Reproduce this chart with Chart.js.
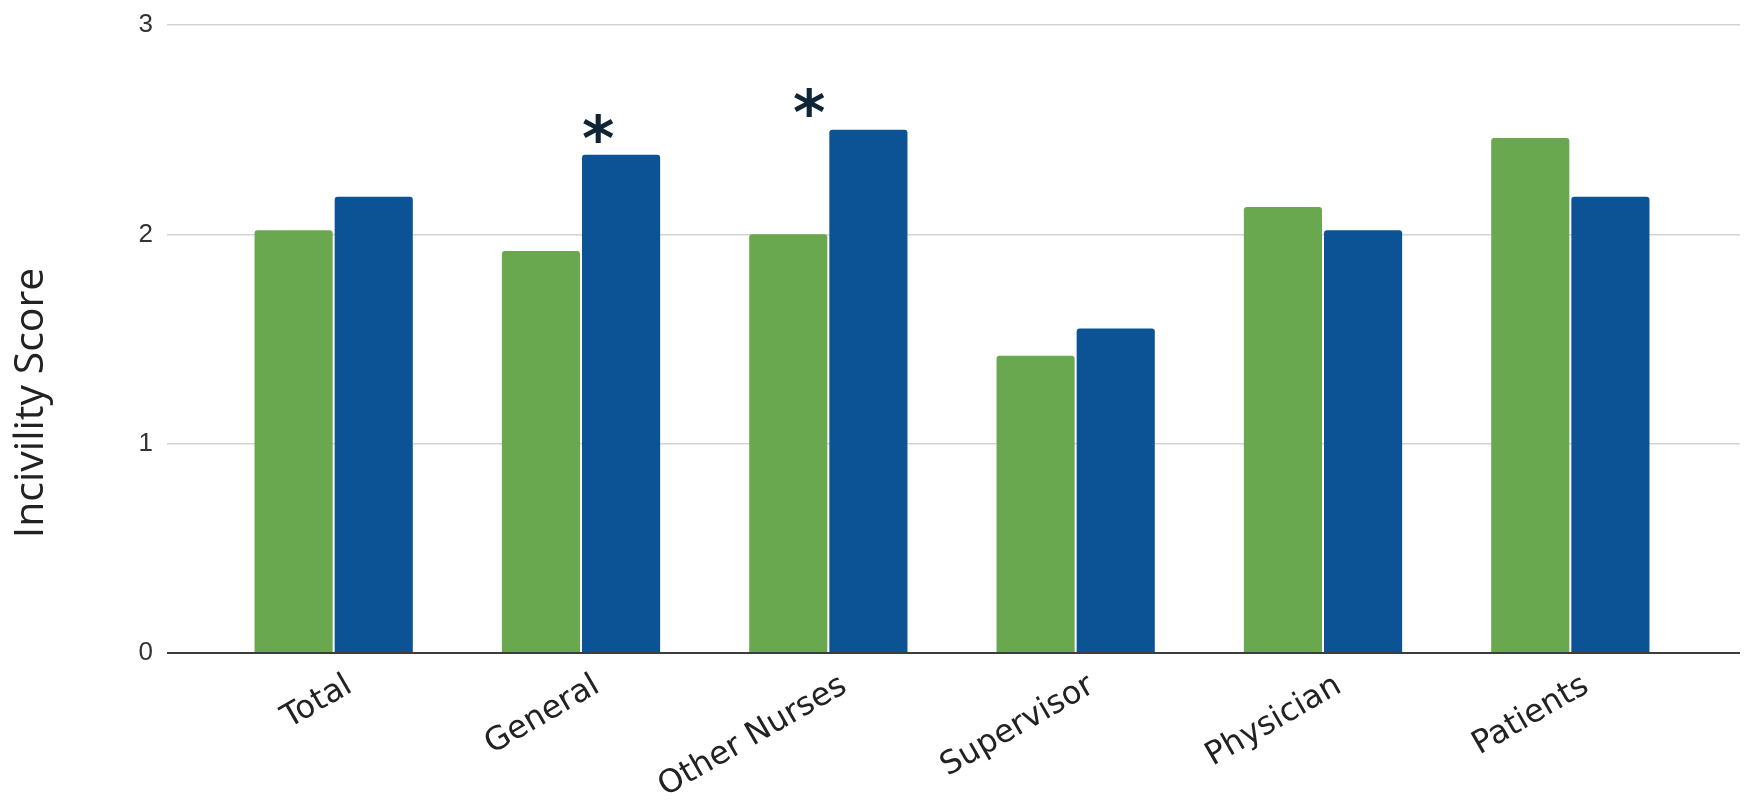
<!DOCTYPE html>
<html>
<head>
<meta charset="utf-8">
<script src="https://cdn.jsdelivr.net/npm/chart.js@4"></script>
<style>
  html, body { margin: 0; padding: 0; background: #fff; }
</style>
</head>
<body>
<canvas id="incivilityChart" width="1745" height="802"></canvas>
<script>
const categories = ['Total', 'General', 'Other Nurses', 'Supervisor', 'Physician', 'Patients'];
const greenScores = [2.02, 1.92, 2.0, 1.42, 2.13, 2.46];
const blueScores = [2.18, 2.38, 2.5, 1.55, 2.02, 2.18];
const yTicks = [0, 1, 2, 3];

// significance stars: category, sideways shift (in category widths), height (score units)
const starCategories = ['General', 'Other Nurses'];
const starShift = [0.07, -0.077];
const starLevel = [2.51, 2.63];

const gridColor = c => (c.tick && c.tick.value === 0 ? '#3c3c3c' : '#d3d3d3');
const gridWidth = c => (c.tick && c.tick.value === 0 ? 2 : 1.5);

// vertical axis title, drawn a bit below centre like the original
const yTitle = {
    id: 'yTitle',
    afterDraw(chart) {
        const ctx = chart.ctx;
        ctx.save();
        ctx.translate(31, 403);
        ctx.rotate(-Math.PI / 2);
        ctx.font = '41px "Open Sans"';
        ctx.fillStyle = '#222';
        ctx.textAlign = 'center';
        ctx.textBaseline = 'middle';
        ctx.fillText('Incivility Score', 0, 0);
        ctx.restore();
    }
};

const stars = {
    id: 'stars',
    afterDatasetsDraw(chart) {
        const ctx = chart.ctx;
        const xs = chart.scales.x, ys = chart.scales.y;
        ctx.save();
        ctx.font = 'bold 62px "DejaVu Sans"';
        ctx.fillStyle = '#0f2535';
        ctx.textAlign = 'center';
        ctx.textBaseline = 'alphabetic';
        const m = ctx.measureText('*');
        const dy = (m.actualBoundingBoxAscent - m.actualBoundingBoxDescent) / 2;
        starCategories.forEach((cat, i) => {
            const idx = categories.indexOf(cat);
            const x = xs.getPixelForValue(idx + starShift[i]);
            const y = ys.getPixelForValue(starLevel[i]);
            ctx.fillText('*', x, y + dy);
        });
        ctx.restore();
    }
};

const ctx = document.getElementById('incivilityChart').getContext('2d');

const incivilityChart = new Chart(ctx, {
    type: 'bar',
    data: {
        labels: categories,
        datasets: [{
            label: 'Group A',
            data: greenScores,
            backgroundColor: '#6aa84f',
        }, {
            label: 'Group B',
            data: blueScores,
            backgroundColor: '#0b5394',
        }]
    },
    options: {
        responsive: false,
        animation: false,
        devicePixelRatio: 1,
        layout: { padding: { top: 25, right: 5, bottom: 0, left: 0 } },
        datasets: {
            bar: {
                categoryPercentage: 0.648,
                barPercentage: 0.975,
                borderRadius: 3,
                borderSkipped: 'start'
            }
        },
        scales: {
            x: {
                grid: { display: false, drawTicks: false },
                border: { display: false },
                ticks: {
                    font: { family: 'DejaVu Sans', size: 32 },
                    color: '#222',
                    minRotation: 30,
                    maxRotation: 30,
                    padding: 14,
                    labelOffset: 16
                },
                afterFit: s => { s.height = 149; }
            },
            y: {
                min: 0,
                max: 3,
                afterBuildTicks: s => { s.ticks = yTicks.map(v => ({ value: v })); },
                ticks: {
                    font: { family: 'Liberation Sans', size: 26 },
                    color: '#333',
                    padding: 14
                },
                grid: {
                    color: gridColor,
                    tickColor: gridColor,
                    lineWidth: gridWidth,
                    drawTicks: true,
                    tickLength: 43
                },
                border: { display: false },
                afterFit: s => { s.width = 210; s.paddingTop = 0; s.paddingBottom = 0; }
            },
            yRight: {
                position: 'right',
                min: 0,
                max: 3,
                afterBuildTicks: s => { s.ticks = yTicks.map(v => ({ value: v })); },
                ticks: { display: false },
                grid: {
                    drawOnChartArea: false,
                    color: gridColor,
                    tickColor: gridColor,
                    lineWidth: gridWidth,
                    drawTicks: true,
                    tickLength: 46
                },
                border: { display: false },
                afterFit: s => { s.width = 46; s.paddingTop = 0; s.paddingBottom = 0; }
            }
        },
        plugins: {
            legend: { display: false },
            tooltip: { enabled: false }
        }
    },
    plugins: [yTitle, stars]
});
</script>
</body>
</html>
